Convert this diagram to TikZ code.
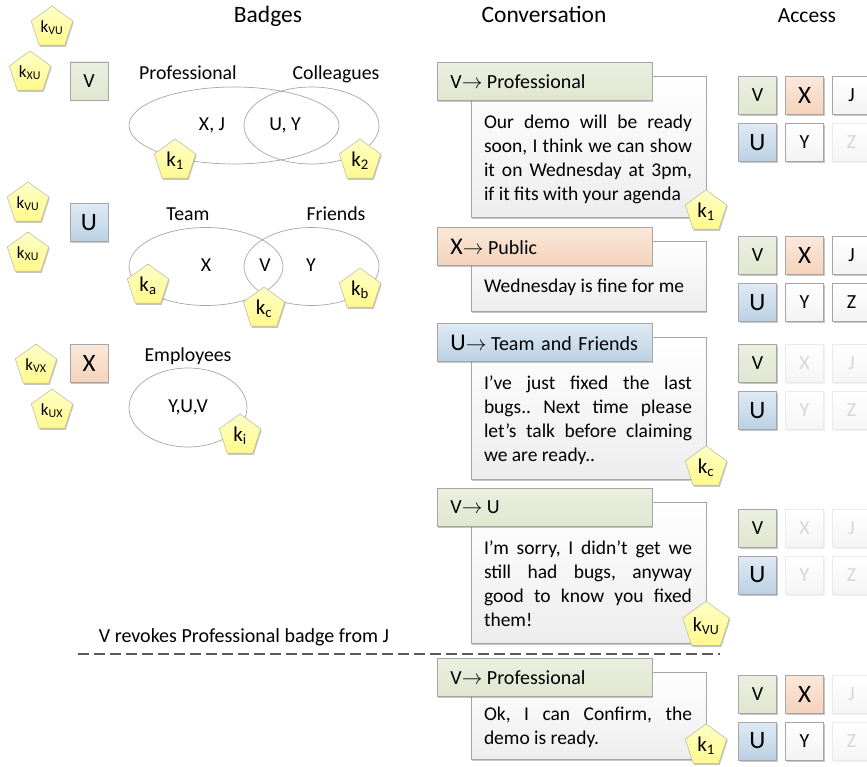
\documentclass[tikz,border=0pt]{standalone}
\usepackage{fontspec}
\setmainfont{Carlito}
\usetikzlibrary{shapes.geometric,shadows}
\definecolor{edge}{HTML}{A6A6A6}
\definecolor{vtop}{HTML}{EBEFE0}\definecolor{vbot}{HTML}{E1E6D0}
\definecolor{utop}{HTML}{DFEAF4}\definecolor{ubot}{HTML}{BBD1E4}
\definecolor{xtop}{HTML}{FBE8DA}\definecolor{xbot}{HTML}{F4D3BA}
\definecolor{wbot}{HTML}{EDEDED}
\definecolor{ytop}{HTML}{FFFFC8}\definecolor{ybot}{HTML}{FFF98C}
\tikzset{
 x=1pt,y=-1pt,
 softshadow/.style={drop shadow={shadow xshift=1pt,shadow yshift=-1.5pt,fill=black,opacity=.22}},
 keypent/.style={regular polygon,regular polygon sides=5,minimum size=43.5pt,inner sep=0pt,yshift=-.7pt,draw=edge!70!ybot,line width=.6pt,
   top color=ytop,bottom color=ybot,softshadow,font=\fontsize{17}{17}\selectfont},
 keylarge/.style={keypent,font=\fontsize{21}{21}\selectfont},
 keybig/.style={keypent,minimum size=49pt,font=\fontsize{20}{20}\selectfont},
 badge/.style={draw=edge,line width=.7pt,ellipse,inner sep=0pt},
 lbl/.style={font=\fontsize{19.8}{20}\selectfont,inner sep=0pt,text height=14.5pt,text depth=4pt},
 head/.style={font=\fontsize{23.5}{24}\selectfont,inner sep=0pt,text height=19pt,text depth=4.6pt},
 tile/.style={rectangle,draw=edge,line width=.8pt,minimum width=38pt,minimum height=38pt,inner sep=0pt,softshadow,font=\fontsize{20}{20}\selectfont},
 tilev/.style={tile,top color=vtop,bottom color=vbot},
 tileu/.style={tile,top color=utop,bottom color=ubot,font=\fontsize{25}{25}\selectfont},
 tilex/.style={tile,top color=xtop,bottom color=xbot,font=\fontsize{25}{25}\selectfont},
 tilew/.style={tile,top color=white,bottom color=wbot!70!white},
 tilef/.style={rectangle,draw=black!8,line width=.8pt,minimum width=38pt,minimum height=38pt,inner sep=0pt,top color=white,bottom color=black!4,text=black!16,
   drop shadow={shadow xshift=1pt,shadow yshift=-1.5pt,fill=black,opacity=.06},font=\fontsize{20}{20}\selectfont},
 msgbody/.style={rectangle,draw=edge,line width=.8pt,top color=white,bottom color=wbot,softshadow,anchor=north west,minimum width=235pt,inner sep=0pt},
 msghead/.style={rectangle,draw=edge,line width=.8pt,softshadow,anchor=north west,minimum width=215pt,minimum height=38pt,inner xsep=13pt,inner ysep=0pt,text width=189pt,font=\fontsize{20}{20}\selectfont},
 msgtext/.style={text width=208pt,align=justify,inner sep=0pt,font=\fontsize{19.5}{24}\selectfont\frenchspacing},
}
\newcommand{\ksb}[1]{k\textsubscript{#1}}
\newcommand{\arr}{$\rightarrow$\hspace{4.5pt}}
\begin{document}
\begin{tikzpicture}
\useasboundingbox (0,0) rectangle (867,767);
% headings
\node[head] (hbadges) at (268,15) {Badges};
\node[head] (hconv) at (544,15) {Conversation};
\node[head,font=\fontsize{21.5}{22}\selectfont] (haccess) at (807,15) {Access};
% owner tiles
\node[tilev] (ownerv) at (89,81) {V};
\node[tileu] (owneru) at (89,222.5) {U};
\node[tilex] (ownerx) at (89,363.5) {X};
% badges
\node[badge,minimum width=210pt,minimum height=77pt] (eprof) at (234,125.5) {};
\node[badge,minimum width=135pt,minimum height=77pt] (ecoll) at (311.5,125.5) {};
\node[badge,minimum width=154pt,minimum height=78pt] (eteam) at (206,266.5) {};
\node[badge,minimum width=135pt,minimum height=78pt] (efrie) at (311.5,266.5) {};
\node[badge,minimum width=118pt,minimum height=79pt] (eempl) at (188,407.5) {};
\node[lbl] (tprof) at (188,74) {Professional};
\node[lbl] (tcoll) at (336,74) {Colleagues};
\node[lbl] (tteam) at (188,215) {Team};
\node[lbl] (tfrie) at (336,215) {Friends};
\node[lbl] (templ) at (188,356) {Employees};
\node[lbl] (mxj) at (212,125) {X, J};
\node[lbl] (muy) at (285,125) {U, Y};
\node[lbl] (mx) at (206,266) {X};
\node[lbl] (mv) at (265,266) {V};
\node[lbl] (my) at (311,266) {Y};
\node[lbl] (myuv) at (188,407) {Y,U,V};
% key pentagons, left
\node[keypent] (k1) at (52,27) {\ksb{VU}};
\node[keypent] (k2) at (30,72) {\ksb{XU}};
\node[keypent] (k3) at (28,203) {\ksb{VU}};
\node[keypent] (k4) at (28,253) {\ksb{XU}};
\node[keypent] (k5) at (36,365) {\ksb{VX}};
\node[keypent] (k6) at (52,410) {\ksb{UX}};
\node[keylarge] (kone) at (175,160) {\ksb{1}};
\node[keylarge] (ktwo) at (360,160) {\ksb{2}};
\node[keylarge] (ka) at (148,285) {\ksb{a}};
\node[keylarge] (kc) at (264,308) {\ksb{c}};
\node[keylarge] (kb) at (360,289) {\ksb{b}};
\node[keylarge] (ki) at (240,435) {\ksb{i}};
% messages
\node[msgbody,minimum height=141pt] (b1) at (471,76) {};
\node[msghead,top color=vtop,bottom color=vbot] (h1) at (437,62) {V\arr Professional};
\node[msgtext] (m1) at (588,159.5) {Our demo will be ready\linebreak soon, I think we can show\linebreak it on Wednesday at 3pm,\linebreak if it fits with your agenda};
\node[msgbody,minimum height=70pt] (b2) at (471,241) {};
\node[msghead,top color=xtop,bottom color=xbot] (h2) at (437,227) {{\fontsize{24}{24}\selectfont X}\arr Public};
\node[msgtext] (m2) at (588,287) {Wednesday is fine for me};
\node[msgbody,minimum height=142pt] (b3) at (471,337) {};
\node[msghead,top color=utop,bottom color=ubot] (h3) at (437,323) {{\fontsize{24}{24}\selectfont U}\arr Team and Friends};
\node[msgtext] (m3) at (588,420.5) {I’ve just fixed the last\linebreak bugs.. Next time please\linebreak let’s talk before claiming\linebreak we are ready..};
\node[msgbody,minimum height=141pt] (b4) at (471,502) {};
\node[msghead,top color=vtop,bottom color=vbot] (h4) at (437,488) {V\arr U};
\node[msgtext] (m4) at (588,584) {I’m sorry, I didn’t get we\linebreak still had bugs, anyway\linebreak good to know you fixed\linebreak them!};
\node[msgbody,minimum height=87pt] (b5) at (471,672) {};
\node[msghead,top color=vtop,bottom color=vbot] (h5) at (437,658) {V\arr Professional};
\node[msgtext] (m5) at (588,727) {Ok, I can Confirm, the\linebreak demo is ready.};
\node[keylarge] (km1) at (706,211) {\ksb{1}};
\node[keylarge] (km3) at (706,467) {\ksb{c}};
\node[keybig] (km4) at (706,625) {\ksb{VU}};
\node[keylarge] (km5) at (706,745) {\ksb{1}};
% access grids
\node[tilev] (a1v) at (757.5,95.5) {V};\node[tilex] (a1x) at (804.5,95.5) {X};\node[tilew] (a1j) at (851.5,95.5) {J};
\node[tileu] (a1u) at (757.5,142.5) {U};\node[tilew] (a1y) at (804.5,142.5) {Y};\node[tilef] (a1z) at (851.5,142.5) {Z};
\node[tilev] (a2v) at (757.5,255.5) {V};\node[tilex] (a2x) at (804.5,255.5) {X};\node[tilew] (a2j) at (851.5,255.5) {J};
\node[tileu] (a2u) at (757.5,302.5) {U};\node[tilew] (a2y) at (804.5,302.5) {Y};\node[tilew] (a2z) at (851.5,302.5) {Z};
\node[tilev] (a3v) at (757.5,363.5) {V};\node[tilef] (a3x) at (804.5,363.5) {X};\node[tilef] (a3j) at (851.5,363.5) {J};
\node[tileu] (a3u) at (757.5,410.5) {U};\node[tilef] (a3y) at (804.5,410.5) {Y};\node[tilef] (a3z) at (851.5,410.5) {Z};
\node[tilev] (a4v) at (757.5,528) {V};\node[tilef] (a4x) at (804.5,528) {X};\node[tilef] (a4j) at (851.5,528) {J};
\node[tileu] (a4u) at (757.5,575) {U};\node[tilef] (a4y) at (804.5,575) {Y};\node[tilef] (a4z) at (851.5,575) {Z};
\node[tilev] (a5v) at (757.5,694) {V};\node[tilex] (a5x) at (804.5,694) {X};\node[tilef] (a5j) at (851.5,694) {J};
\node[tileu] (a5u) at (757.5,741) {U};\node[tilew] (a5y) at (804.5,741) {Y};\node[tilef] (a5z) at (851.5,741) {Z};
% revocation
\node[lbl,font=\fontsize{20}{20}\selectfont] (rev) at (244,637) {V revokes Professional badge from J};
\coordinate (dl) at (78,654);
\coordinate (dr) at (720,654);
\draw[black!65,line width=1.2pt,dash pattern=on 11pt off 5pt] (dl) -- (dr);
\end{tikzpicture}
\end{document}
